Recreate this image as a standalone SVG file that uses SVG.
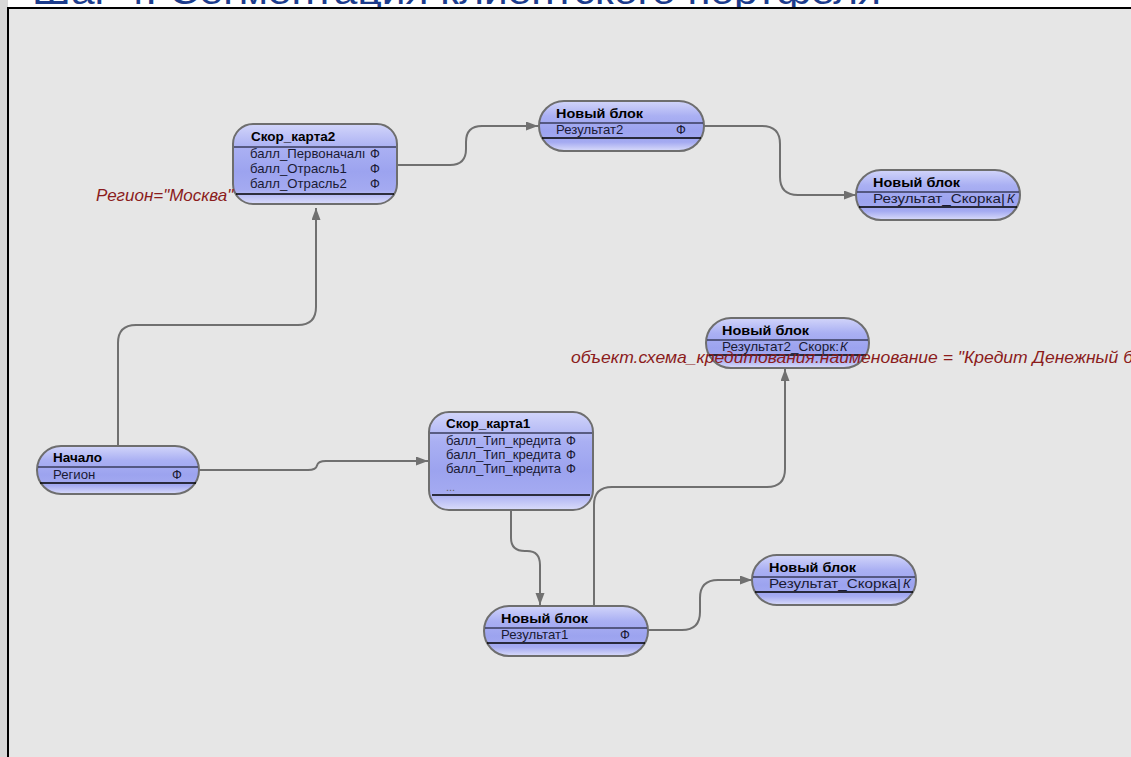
<svg xmlns="http://www.w3.org/2000/svg" width="1131" height="757" viewBox="0 0 1131 757">
<defs>
<linearGradient id="nodeFill" x1="0" y1="0" x2="0" y2="1">
<stop offset="0" stop-color="#d2d5fa"/>
<stop offset="0.3" stop-color="#aab0f3"/>
<stop offset="0.6" stop-color="#9ca3ef"/>
<stop offset="0.82" stop-color="#a4aaf1"/>
<stop offset="1" stop-color="#dadcfa"/>
</linearGradient>
<marker id="arr" markerUnits="userSpaceOnUse" markerWidth="13" markerHeight="10" refX="12" refY="4.5" orient="auto">
<path d="M0,0 L12,4.5 L0,9 z" fill="#707070"/>
</marker>
<style>
.box{fill:url(#nodeFill);stroke:#6e6e6e;stroke-width:2}
.sep{stroke:#3a3d5c;stroke-width:1.3}
.bot{stroke:#000;stroke-width:1.5}
.hd{font-family:"Liberation Sans",Arial,sans-serif;font-size:13.5px;font-weight:bold;fill:#000}
.rw{font-family:"Liberation Sans",Arial,sans-serif;font-size:13.2px;fill:#1a1a33}
.ty{font-family:"Liberation Sans",Arial,sans-serif;font-size:13px;fill:#1a1a33}
.tk{font-family:"Liberation Sans",Arial,sans-serif;font-size:13px;font-style:italic;fill:#1a1a33}
.dots{font-family:"Liberation Sans",Arial,sans-serif;font-size:11px;fill:#666}
.conn path{fill:none;stroke:#707070;stroke-width:2;marker-end:url(#arr)}
.lbl{font-family:"Liberation Sans",Arial,sans-serif;font-size:17px;font-style:italic;fill:#8b1c1c}
</style>
</defs>
<rect x="0" y="0" width="1131" height="757" fill="#ffffff"/>
<rect x="0" y="0" width="8" height="757" fill="#d8d8d8"/>
<text x="32" y="3.5" font-family="'Liberation Sans',Arial,sans-serif" font-size="36" fill="#1c3c8c" textLength="849" lengthAdjust="spacingAndGlyphs">Шаг 4. Сегментация клиентского портфеля</text>
<rect x="8" y="8" width="1140" height="770" fill="#e6e6e6" stroke="#000" stroke-width="2"/>

<g id="connectors" class="conn">
<path d="M118,446 V343 Q118,325 136,325 H298 Q316,325 316,307 V208"/>
<path d="M397,165 H450 Q466,165 466,149 V142 Q466,126 482,126 H538"/>
<path d="M704,126 H762 Q780,126 780,144 V177 Q780,195 798,195 H856"/>
<path d="M199,470 H308 Q316,470 317,465.5 Q318,461 326,461 H428"/>
<path d="M511,510 V538 Q511,551 525,551 H527 Q540,551 540,565 V605"/>
<path d="M594,606 V505 Q594,487 612,487 H767 Q785,487 785,469 V369"/>
<path d="M648,630 H682 Q700,630 700,612 V598 Q700,580 718,580 H752"/>
</g>

<g id="node-skor2">
<rect class="box" x="233" y="124" width="164" height="80" rx="20"/>
<line class="sep" x1="234" y1="147" x2="396" y2="147"/>
<line class="bot" x1="236" y1="194" x2="394" y2="194"/>
<text class="hd" x="251" y="141">Скор_карта2</text>
<text class="rw" x="250" y="158">балл_Первоначалı</text>
<text class="ty" x="370" y="158">Ф</text>
<text class="rw" x="250" y="173">балл_Отрасль1</text>
<text class="ty" x="370" y="173">Ф</text>
<text class="rw" x="250" y="188">балл_Отрасль2</text>
<text class="ty" x="370" y="188">Ф</text>
</g>

<g id="node-new-top">
<rect class="box" x="539" y="101" width="165" height="50" rx="25"/>
<line class="sep" x1="540" y1="123" x2="703" y2="123"/>
<line class="bot" x1="542" y1="138" x2="701" y2="138"/>
<text class="hd" x="556" y="118" textLength="87" lengthAdjust="spacingAndGlyphs">Новый блок</text>
<text class="rw" x="556" y="134">Результат2</text>
<text class="ty" x="676" y="134">Ф</text>
</g>

<g id="node-new-topright">
<rect class="box" x="856" y="170" width="164" height="50" rx="25"/>
<line class="sep" x1="857" y1="192" x2="1019" y2="192"/>
<line class="bot" x1="859" y1="207" x2="1017" y2="207"/>
<text class="hd" x="873" y="187" textLength="87" lengthAdjust="spacingAndGlyphs">Новый блок</text>
<text class="rw" x="873" y="203" textLength="132" lengthAdjust="spacingAndGlyphs">Результат_Скорка|</text>
<text class="tk" x="1007" y="203">К</text>
</g>

<g id="node-new-mid">
<rect class="box" x="706" y="318" width="163" height="50" rx="25"/>
<line class="sep" x1="707" y1="340" x2="868" y2="340"/>
<line class="bot" x1="709" y1="355" x2="866" y2="355"/>
<text class="hd" x="722" y="335" textLength="87" lengthAdjust="spacingAndGlyphs">Новый блок</text>
<text class="rw" x="722" y="351" textLength="117" lengthAdjust="spacingAndGlyphs">Результат2_Скорк:</text>
<text class="tk" x="840" y="351">К</text>
</g>

<g id="node-start">
<rect class="box" x="37" y="446" width="162" height="48" rx="24"/>
<line class="sep" x1="38" y1="467" x2="198" y2="467"/>
<line class="bot" x1="40" y1="483" x2="196" y2="483"/>
<text class="hd" x="53" y="462">Начало</text>
<text class="rw" x="53" y="479">Регион</text>
<text class="ty" x="172" y="479">Ф</text>
</g>

<g id="node-skor1">
<rect class="box" x="429" y="412" width="164" height="98" rx="20"/>
<line class="sep" x1="430" y1="433" x2="592" y2="433"/>
<line class="bot" x1="432" y1="495" x2="590" y2="495"/>
<text class="hd" x="446" y="428">Скор_карта1</text>
<text class="rw" x="446" y="445">балл_Тип_кредита</text>
<text class="ty" x="566" y="445">Ф</text>
<text class="rw" x="446" y="459">балл_Тип_кредита</text>
<text class="ty" x="566" y="459">Ф</text>
<text class="rw" x="446" y="473">балл_Тип_кредита</text>
<text class="ty" x="566" y="473">Ф</text>
<text class="dots" x="446" y="491">...</text>
</g>

<g id="node-new-bottom">
<rect class="box" x="484" y="606" width="164" height="50" rx="25"/>
<line class="sep" x1="485" y1="628" x2="647" y2="628"/>
<line class="bot" x1="487" y1="643" x2="645" y2="643"/>
<text class="hd" x="501" y="623" textLength="87" lengthAdjust="spacingAndGlyphs">Новый блок</text>
<text class="rw" x="501" y="639">Результат1</text>
<text class="ty" x="620" y="639">Ф</text>
</g>

<g id="node-new-bottomright">
<rect class="box" x="752" y="555" width="164" height="50" rx="25"/>
<line class="sep" x1="753" y1="577" x2="915" y2="577"/>
<line class="bot" x1="755" y1="592" x2="913" y2="592"/>
<text class="hd" x="769" y="572" textLength="87" lengthAdjust="spacingAndGlyphs">Новый блок</text>
<text class="rw" x="769" y="588" textLength="132" lengthAdjust="spacingAndGlyphs">Результат_Скорка|</text>
<text class="tk" x="903" y="588">К</text>
</g>

<g id="labels">
<text class="lbl" x="96" y="201">Регион="Москва"</text>
<text class="lbl" x="571" y="363" textLength="562" lengthAdjust="spacingAndGlyphs">объект.схема_кредитования.наименование = "Кредит Денежный б</text>
</g>
</svg>
